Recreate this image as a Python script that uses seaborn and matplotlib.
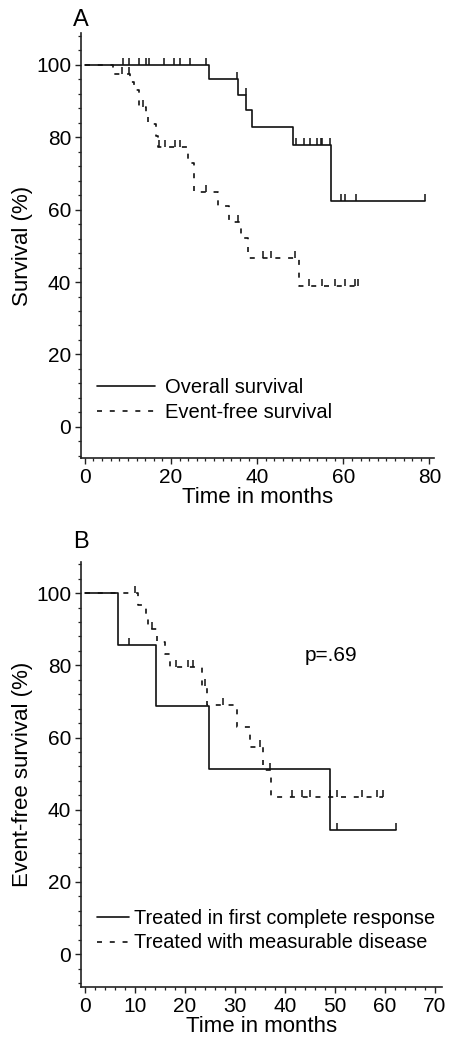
import numpy as np
import seaborn as sns
import matplotlib.pyplot as plt
from matplotlib.path import Path
from matplotlib.ticker import MultipleLocator

# =========================
# DATA
# =========================

# Panel A - overall survival (solid)
os_times = [0, 28.8, 35.6, 37.5, 38.7, 48.3, 57.2]
os_surv = [100, 96.0, 91.7, 87.6, 82.8, 77.9, 62.4]
os_end = 78.9
os_cens_t = [8.9, 10.3, 12.5, 14.3, 14.8, 18.4, 20.7, 22.0, 24.5, 28.2,
             35.4, 37.3, 49.0, 50.8, 52.2, 53.8, 54.9, 55.1, 56.8,
             59.4, 60.5, 63.0, 78.9]
os_cens_s = [100, 100, 100, 100, 100, 100, 100, 100, 100, 100,
             96.0, 91.7, 77.9, 77.9, 77.9, 77.9, 77.9, 77.9, 77.9,
             62.4, 62.4, 62.4, 62.4]

# Panel A - event-free survival (dashed)
efs_times = [0, 6.6, 10.4, 11.5, 12.5, 14.3, 14.6, 16.6, 17.0,
             24.0, 25.4, 30.9, 33.5, 36.2, 37.9, 49.7]
efs_surv = [100, 97.6, 95.3, 93.0, 88.4, 86.0, 83.7, 80.4, 77.3,
            72.8, 65.0, 60.9, 56.7, 52.1, 46.6, 38.9]
efs_end = 63.5
efs_cens_t = [8.7, 10.3, 13.5, 17.2, 18.6, 20.9, 22.0, 28.2, 35.6,
              41.4, 43.3, 48.7, 52.0, 55.0, 58.0, 60.3, 62.6, 63.5]
efs_cens_s = [97.6, 97.6, 88.4, 77.3, 77.3, 77.3, 77.3, 65.0, 56.7,
              46.6, 46.6, 46.6, 38.9, 38.9, 38.9, 38.9, 38.9, 38.9]

# Panel B - treated in first complete response (solid)
cr_times = [0, 6.7, 14.3, 24.9, 49.0]
cr_surv = [100, 85.7, 68.6, 51.4, 34.3]
cr_end = 62.2
cr_cens_t = [8.9, 50.4, 62.2]
cr_cens_s = [85.7, 34.3, 34.3]

# Panel B - treated with measurable disease (dashed)
md_times = [0, 10.7, 12.2, 12.6, 14.5, 16.0, 17.0, 23.4, 24.4,
            30.5, 33.1, 35.7, 37.3]
md_surv = [100, 96.7, 93.4, 90.0, 86.5, 83.0, 79.6, 74.2, 69.0,
           63.0, 57.4, 51.0, 43.6]
md_end = 59.6
md_cens_t = [10.0, 13.5, 18.3, 20.7, 21.7, 24.0, 27.7, 35.0, 37.0,
             41.5, 43.5, 45.0, 49.0, 50.5, 55.5, 58.5, 59.6]
md_cens_s = [100, 90.0, 79.6, 79.6, 79.6, 74.2, 69.0, 57.4, 51.0,
             43.6, 43.6, 43.6, 43.6, 43.6, 43.6, 43.6, 43.6]

# =========================
# STYLE
# =========================
sns.set_style("ticks")
plt.rcParams['font.family'] = ['Liberation Sans', 'DejaVu Sans']
plt.rcParams['lines.scale_dashes'] = False
for k in ("text.color", "axes.labelcolor", "xtick.color", "ytick.color"):
    plt.rcParams[k] = "black"

INK = "#111111"
DASH = (0, (3.6, 5.6))
tick_mark = Path([(0, 0), (0, 1)])


def km_curve(ax, times, surv, end, ct, cs, ls, label):
    x = np.r_[times, end]
    y = np.r_[surv, surv[-1]]
    sns.lineplot(x=x, y=y, ax=ax, color=INK, linewidth=1.2, linestyle=ls,
                 drawstyle="steps-post", estimator=None, sort=False,
                 label=label)
    sns.scatterplot(x=ct, y=cs, ax=ax, marker=tick_mark, s=90,
                    color=INK, edgecolor=INK, linewidth=1.1, zorder=3)


def style_axes(ax, xmax, xmajor, xlim, ylim, ylabel):
    ax.set_xlim(*xlim)
    ax.set_ylim(*ylim)
    ax.xaxis.set_major_locator(MultipleLocator(xmajor))
    ax.xaxis.set_minor_locator(MultipleLocator(2))
    ax.yaxis.set_major_locator(MultipleLocator(20))
    ax.yaxis.set_minor_locator(MultipleLocator(4))
    ax.set_xticks(np.arange(0, xmax + 1, xmajor))
    ax.set_yticks(np.arange(0, 101, 20))
    ax.tick_params(which="major", length=4.5, width=1.0, labelsize=15,
                   pad=2.5, color="#222222", labelcolor="black")
    ax.tick_params(which="minor", length=2.4, width=0.9, color="#222222")
    for s in ("left", "bottom"):
        ax.spines[s].set_linewidth(1.2)
        ax.spines[s].set_color("#222222")
    sns.despine(ax=ax)
    ax.set_xlabel("Time in months", fontsize=16, labelpad=0, color="black")
    ax.set_ylabel(ylabel, fontsize=16, labelpad=2, color="black")


fig = plt.figure(figsize=(4.5, 10.48), dpi=100)

# =========================
# PANEL A
# =========================
axA = fig.add_axes([0.18, 0.563, 0.784, 0.4055])
km_curve(axA, os_times, os_surv, os_end, os_cens_t, os_cens_s,
         "-", "Overall survival")
km_curve(axA, efs_times, efs_surv, efs_end, efs_cens_t, efs_cens_s,
         DASH, "Event-free survival")
style_axes(axA, 80, 20, (-0.9, 81), (-8.6, 108.8), "Survival (%)")
axA.legend(loc="center left", bbox_to_anchor=(0.045, 0.136), frameon=False,
           fontsize=14.5, handlelength=2.9, handletextpad=0.5,
           labelspacing=0.3, borderpad=0, borderaxespad=0)
fig.text(0.18, 1 - 20 / 1048, "A", fontsize=17, ha="center", va="center")

# =========================
# PANEL B
# =========================
axB = fig.add_axes([0.18, 0.0582, 0.803, 0.4055])
km_curve(axB, cr_times, cr_surv, cr_end, cr_cens_t, cr_cens_s,
         "-", "Treated in first complete response")
km_curve(axB, md_times, md_surv, md_end, md_cens_t, md_cens_s,
         DASH, "Treated with measurable disease")
style_axes(axB, 70, 10, (-0.8, 71.5), (-9.1, 108.6), "Event-free survival (%)")
axB.legend(loc="center left", bbox_to_anchor=(0.044, 0.133), frameon=False,
           fontsize=14.3, handlelength=1.6, handletextpad=0.25,
           labelspacing=0.3, borderpad=0, borderaxespad=0)
axB.text(44, 82.8, "p=.69", fontsize=15, ha="left", va="center")
fig.text(0.18, 1 - 542 / 1048, "B", fontsize=17, ha="center", va="center")

plt.savefig("out.png", dpi=100)
